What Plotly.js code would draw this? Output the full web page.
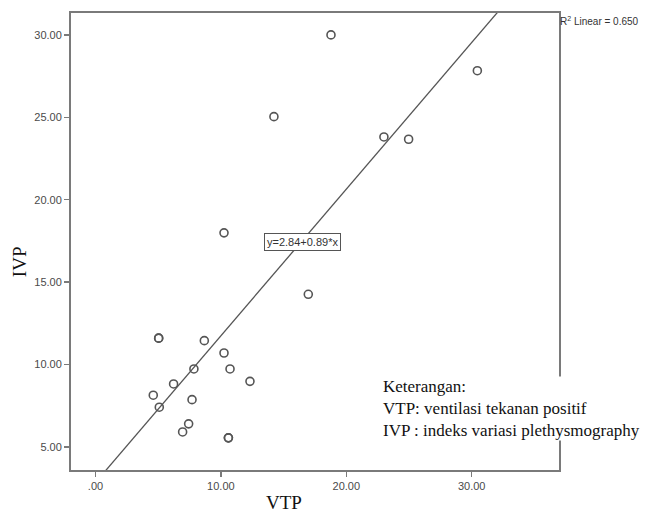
<!DOCTYPE html>
<html>
<head>
<meta charset="utf-8">
<script src="https://cdn.plot.ly/plotly-3.0.1.min.js"></script>
<style>html,body{margin:0;padding:0;background:#fff;}#chart{width:650px;height:514px;}</style>
</head>
<body>
<div id="chart"></div>
<script>
// Data (VTP on x, IVP on y)
const vtp = [5.04, 5.04, 8.68, 7.85, 6.23, 4.61, 5.09, 7.70, 7.43, 6.95, 18.78, 14.23, 23.00, 24.97, 10.25, 30.45, 16.97, 10.25, 10.73, 12.32, 10.60, 10.60];
const ivp = [11.60, 11.60, 11.45, 9.73, 8.82, 8.14, 7.41, 7.87, 6.40, 5.91, 30.00, 25.04, 23.81, 23.67, 17.99, 27.83, 14.26, 10.70, 9.73, 8.98, 5.55, 5.55];
const intercept = 2.84;
const slope = 0.89;
const r2 = "0.650";
const xTickVals = [0, 10, 20, 30];
const xTickText = [".00", "10.00", "20.00", "30.00"];
const yTickVals = [5, 10, 15, 20, 25, 30];
const yTickText = ["5.00", "10.00", "15.00", "20.00", "25.00", "30.00"];

const xRange = [-1.95, 36.96];
const yRange = [3.6, 31.33];
const fitX = [xRange[0], xRange[1]];
const fitY = fitX.map(x => intercept + slope * x);

const gray = '#7a7a7a';
const tickFont = {family: 'Liberation Sans, Arial, sans-serif', size: 11, color: '#4a4a4a'};

const traces = [
  {x: fitX, y: fitY, mode: 'lines', line: {color: '#555', width: 1.3}, hoverinfo: 'skip', showlegend: false},
  {x: vtp, y: ivp, mode: 'markers', marker: {symbol: 'circle-open', size: 8, color: '#555', line: {width: 1.6, color: '#555'}}, showlegend: false}
];

const layout = {
  width: 650, height: 514,
  margin: {l: 71, r: 91, t: 13, b: 44},
  paper_bgcolor: '#fff', plot_bgcolor: '#fff',
  showlegend: false,
  xaxis: {range: xRange, tickvals: xTickVals, ticktext: xTickText, showgrid: false, zeroline: false,
    showline: true, mirror: true, linecolor: gray, linewidth: 2, ticks: 'outside', ticklen: 5, tickwidth: 1.5, tickcolor: gray,
    tickfont: tickFont},
  yaxis: {range: yRange, tickvals: yTickVals, ticktext: yTickText, showgrid: false, zeroline: false,
    showline: true, mirror: true, linecolor: gray, linewidth: 2, ticks: 'outside', ticklen: 5, tickwidth: 1.5, tickcolor: gray,
    tickfont: tickFont},
  annotations: [
    {xref: 'paper', yref: 'paper', x: -0.1066, y: 0.457, xanchor: 'center', yanchor: 'middle', text: 'IVP', textangle: -90, showarrow: false,
      font: {family: 'Liberation Serif, Times New Roman, serif', size: 19, color: '#111'}},
    {xref: 'paper', yref: 'paper', x: 0.4365, y: -0.0963, xanchor: 'center', yanchor: 'bottom', borderpad: 0, text: 'VTP', showarrow: false,
      font: {family: 'Liberation Serif, Times New Roman, serif', size: 19, color: '#111'}},
    {xref: 'x', yref: 'y', x: 16.47, y: 17.44, xanchor: 'center', yanchor: 'middle', text: 'y=2.84+0.89*x', showarrow: false,
      bgcolor: '#fff', bordercolor: '#555', borderwidth: 1, borderpad: 2,
      font: {family: 'Liberation Sans, Arial, sans-serif', size: 11, color: '#333'}},
    {xref: 'paper', yref: 'paper', x: 1.0, y: 0.9825, xanchor: 'left', yanchor: 'middle', text: 'R<sup>2</sup> Linear = ' + r2, showarrow: false,
      borderpad: 0, font: {family: 'Liberation Sans, Arial, sans-serif', size: 10, color: '#333'}},
    {xref: 'paper', yref: 'paper', x: 0.637, y: 0.1335, xanchor: 'left', yanchor: 'middle', align: 'left', showarrow: false,
      bgcolor: '#fff', borderpad: 0,
      text: 'Keterangan:<br>VTP: ventilasi tekanan positif<br>IVP : indeks variasi plethysmography',
      font: {family: 'Liberation Serif, Times New Roman, serif', size: 17, color: '#111'}}
  ]
};

Plotly.newPlot('chart', traces, layout, {displayModeBar: false, staticPlot: true});
</script>
</body>
</html>
